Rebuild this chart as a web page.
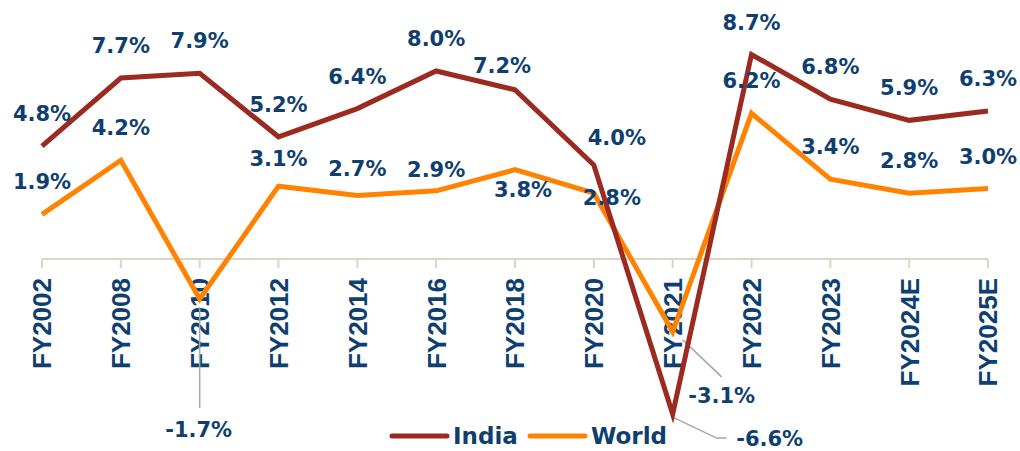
<!DOCTYPE html>
<html>
<head>
<meta charset="utf-8">
<script src="https://cdn.jsdelivr.net/npm/d3@7"></script>
<style>
  body { margin: 0; background: #fff; }
  svg { display: block; font-family: "Liberation Sans", Arial, sans-serif; }
  .tick-label { font-size: 26px; font-weight: bold; fill: #0f3f70; }
  .data-label { font-family: "DejaVu Sans", sans-serif; font-size: 21px; font-weight: bold; fill: #0f3f70; }
  .legend-text { font-family: "DejaVu Sans", sans-serif; font-size: 23px; font-weight: bold; fill: #0f3f70; }
</style>
</head>
<body>
<svg width="1020" height="451"></svg>
<script>
// categories + values
const years = ["FY2002", "FY2008", "FY2010", "FY2012", "FY2014", "FY2016", "FY2018",
  "FY2020", "FY2021", "FY2022", "FY2023", "FY2024E", "FY2025E"];
const india = [4.8, 7.7, 7.9, 5.2, 6.4, 8.0, 7.2, 4.0, -6.6, 8.7, 6.8, 5.9, 6.3];
const world = [1.9, 4.2, -1.7, 3.1, 2.7, 2.9, 3.8, 2.8, -3.1, 6.2, 3.4, 2.8, 3.0];

const {
  select,
  scalePoint,
  scaleLinear,
  line
} = d3;

const svg = select('svg');

const xScale = scalePoint()
  .domain(years)
  .range([42, 988]);

// 0 sits on the axis at y=259
const yScale = scaleLinear()
  .domain([-8, 10])
  .range([447, 24]);

const colors = { India: '#9b2a21', World: '#ff8200' };

// where a label moves away from its default spot (above the point)
// [dx, dy of baseline from the point]
const labelShift = {
  'India-FY2018': [-13, -17],
  'India-FY2020': [23, -20],
  'India-FY2021': [97, 32],
  'World-FY2010': [-1, 138],
  'World-FY2012': [0, -20],
  'World-FY2014': [0, -20],
  'World-FY2016': [0, -14],
  'World-FY2018': [8, 27],
  'World-FY2020': [18, 12],
  'World-FY2021': [49, 71]
};
// leader lines for the labels that were pushed far away
const leaders = {
  'World-FY2010': [[0, 8], [0, 109]],
  'World-FY2021': [[10, 8], [49, 45]],
  'India-FY2021': [[0, 3], [44, 24], [54, 24]]
};

const render = () => {
  const axisY = yScale(0);

  // x axis line + ticks
  svg.append('line')
    .attr('x1', xScale(years[0])).attr('x2', xScale(years[years.length - 1]))
    .attr('y1', axisY).attr('y2', axisY)
    .attr('stroke', '#d9d6c6').attr('stroke-width', 2);

  svg.selectAll('.tick').data(years)
    .enter().append('line')
    .attr('class', 'tick')
    .attr('x1', d => xScale(d)).attr('x2', d => xScale(d))
    .attr('y1', axisY).attr('y2', axisY + 9)
    .attr('stroke', '#d9d6c6').attr('stroke-width', 2);

  svg.selectAll('.tick-label').data(years)
    .enter().append('text')
    .attr('class', 'tick-label')
    .attr('transform', d => `translate(${xScale(d)},${axisY + 19}) rotate(-90)`)
    .attr('text-anchor', 'end')
    .attr('dy', '0.36em')
    .text(d => d);

  const series = [
    { name: 'India', values: india },
    { name: 'World', values: world }
  ];

  const lineGenerator = line()
    .x((d, i) => xScale(years[i]))
    .y(d => yScale(d));

  // leader lines under everything else
  series.forEach(s => {
    s.values.forEach((v, i) => {
      const key = `${s.name}-${years[i]}`;
      if (!leaders[key]) return;
      const px = xScale(years[i]);
      const py = yScale(v);
      svg.append('polyline')
        .attr('points', leaders[key].map(p => `${px + p[0]},${py + p[1]}`).join(' '))
        .attr('fill', 'none')
        .attr('stroke', '#a6a6a6')
        .attr('stroke-width', 1.5);
    });
  });

  series.slice().reverse().forEach(s => {
    svg.append('path')
      .attr('d', lineGenerator(s.values))
      .attr('fill', 'none')
      .attr('stroke', colors[s.name])
      .attr('stroke-width', 5)
      .attr('stroke-linejoin', 'miter');
  });

  series.forEach(s => {
    svg.selectAll(`.lbl-${s.name}`).data(s.values)
      .enter().append('text')
      .attr('class', `data-label lbl-${s.name}`)
      .attr('text-anchor', 'middle')
      .attr('x', (d, i) => {
        const sh = labelShift[`${s.name}-${years[i]}`];
        return xScale(years[i]) + (sh ? sh[0] : 0);
      })
      .attr('y', (d, i) => {
        const sh = labelShift[`${s.name}-${years[i]}`];
        return yScale(d) + (sh ? sh[1] : -25);
      })
      .text(d => d.toFixed(1) + '%');
  });

  // legend
  const legend = svg.append('g').attr('transform', 'translate(392,436)');
  series.forEach((s, i) => {
    const g = legend.append('g').attr('transform', `translate(${i * 138},0)`);
    g.append('line')
      .attr('x1', 0).attr('x2', 55)
      .attr('stroke', colors[s.name])
      .attr('stroke-width', 5)
      .attr('stroke-linecap', 'round');
    g.append('text')
      .attr('class', 'legend-text')
      .attr('x', 61)
      .attr('y', 8)
      .text(s.name);
  });
};

render();
</script>
</body>
</html>
